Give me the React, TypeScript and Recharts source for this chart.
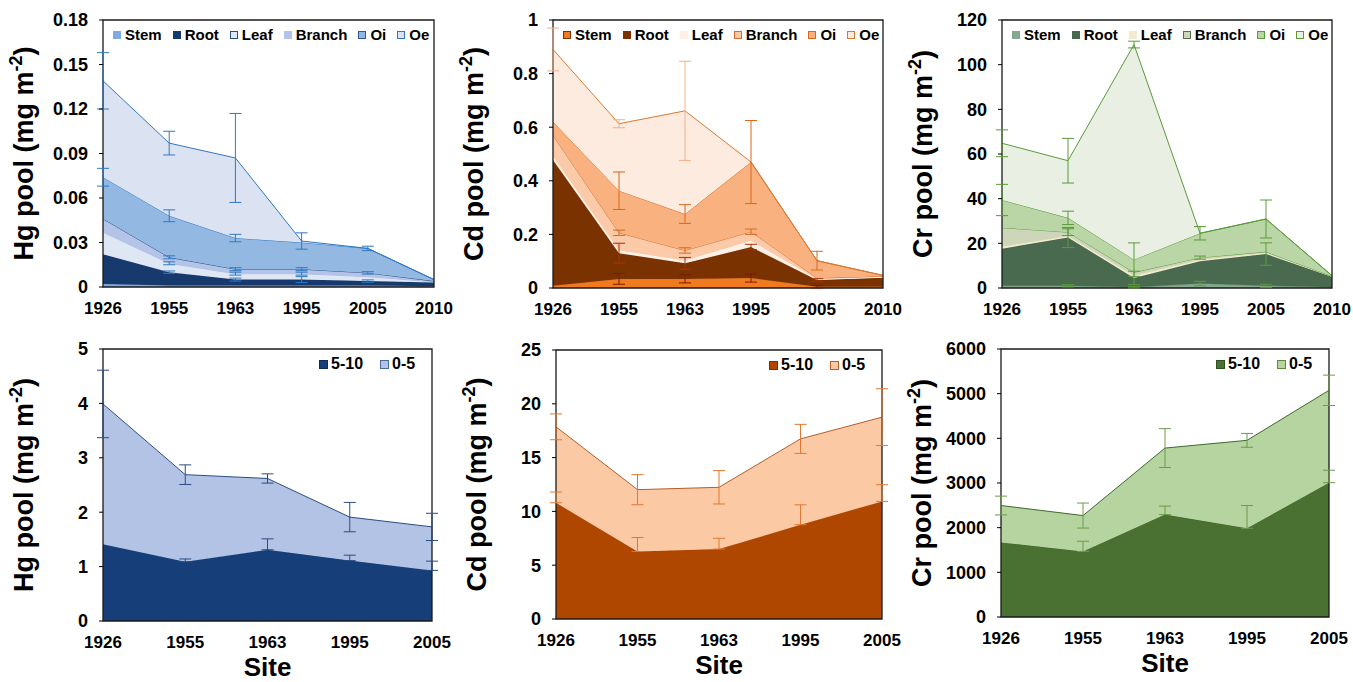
import {
  Area,
  ComposedChart,
  ErrorBar,
  Label,
  Legend,
  Line,
  ReferenceArea,
  XAxis,
  YAxis,
} from 'recharts';

const FONT = '"Liberation Sans", Arial, Helvetica, sans-serif';

const litterSites = ['1926', '1955', '1963', '1995', '2005', '2010'];
const soilSites = ['1926', '1955', '1963', '1995', '2005'];

// vegetation + litter pools, stacked Stem -> Oe (mg m-2)
const hgStem = [0.002, 0.001, 0.001, 0.001, 0.001, 0.0005];
const hgRoot = [0.02, 0.009, 0.004, 0.004, 0.003, 0.0025];
const hgLeaf = [0.015, 0.006, 0.004, 0.004, 0.003, 0.0005];
const hgBranch = [0.009, 0.004, 0.003, 0.003, 0.0025, 0.0005];
const hgOi = [0.028, 0.028, 0.021, 0.018, 0.0165, 0.001];
const hgOe = [0.065, 0.049, 0.054, 0.001, 0, 0];
const hgRootSd = [null, 0.0008, 0.001, 0.002, 0.0008, null];
const hgLeafSd = [null, 0.001, 0.001, 0.001, null, null];
const hgBranchSd = [null, 0.001, 0.001, 0.001, 0.0008, null];
const hgOiSd = [0.006, 0.004, 0.0025, null, 0.0015, null];
const hgOeSd = [0.019, 0.008, 0.03, 0.0055, null, null];

const cdStem = [0.008, 0.034, 0.034, 0.037, 0.005, 0.005];
const cdRoot = [0.47, 0.096, 0.058, 0.116, 0.025, 0.033];
const cdLeaf = [0.012, 0.01, 0.01, 0.022, 0.003, 0.003];
const cdBranch = [0.08, 0.066, 0.038, 0.035, 0.004, 0.003];
const cdOi = [0.05, 0.157, 0.136, 0.26, 0.065, 0.003];
const cdOe = [0.27, 0.25, 0.385, 0, 0, 0];
const cdStemSd = [null, 0.02, 0.015, 0.015, 0.005, null];
const cdRootSd = [null, 0.037, 0.022, 0.01, 0.005, null];
const cdBranchSd = [null, 0.01, 0.01, 0.01, null, null];
const cdOiSd = [null, 0.07, 0.035, 0.155, 0.035, null];
const cdOeSd = [0.08, 0.015, 0.185, null, null, null];

const crStem = [1, 1, 0.3, 2, 1, 0.3];
const crRoot = [16.6, 21.6, 4.2, 10, 14.2, 4.7];
const crLeaf = [0.9, 0.7, 1, 0.7, 0.6, 0.2];
const crBranch = [8.5, 1.7, 1.5, 0.9, 0.4, 0.1];
const crOi = [12.4, 6.4, 5.7, 10.9, 14.7, 0.2];
const crOe = [25.4, 25.6, 96.3, 0, 0, 0];
const crStemSd = [null, 0.5, 0.3, 1, 0.7, null];
const crRootSd = [null, 4.5, 3, null, 5, null];
const crBranchSd = [null, 1.5, null, 0.7, null, null];
const crOiSd = [7, 3, 7.5, 3, 8.5, null];
const crOeSd = [6, 10, 1.5, null, null, null];

// soil pools by depth (cm); deeper layer errors drawn upward only
const hgDeep = [1.41, 1.09, 1.31, 1.11, 0.93];
const hgTop = [2.58, 1.6, 1.31, 0.8, 0.8];
const hgDeepSd = [null, 0.05, 0.2, 0.1, 0.17];
const hgTopSd = [0.62, 0.18, 0.085, 0.27, 0.25];

const cdDeep = [10.8, 6.27, 6.5, 8.76, 10.93];
const cdTop = [7.06, 5.75, 5.74, 7.98, 7.83];
const cdDeepSd = [1.0, 1.3, 1.0, 1.85, 1.55];
const cdTopSd = [1.2, 1.4, 1.55, 1.35, 2.64];

const crDeep = [1669, 1466, 2293, 1985, 3008];
const crTop = [827, 805, 1489, 1970, 2067];
const crDeepSd = [null, 230, 190, 510, 278];
const crTopSd = [210, 280, 435, 155, 340];

const none = [null, null, null, null, null, null];

const hgTicks = [0, 0.03, 0.06, 0.09, 0.12, 0.15, 0.18];
const cdTicks = [0, 0.2, 0.4, 0.6, 0.8, 1];
const crTicks = [0, 20, 40, 60, 80, 100, 120];
const hgSoilTicks = [0, 1, 2, 3, 4, 5];
const cdSoilTicks = [0, 5, 10, 15, 20, 25];
const crSoilTicks = [0, 1000, 2000, 3000, 4000, 5000, 6000];

type Series = {
  key: string;
  label: string;
  values: number[];
  sd: (number | null)[];
  fill: string;
  stroke: string;
  err: string;
  box?: string;
  plusOnly?: boolean;
};

const hgLitter: Series[] = [
  { key: 'stem', label: 'Stem', values: hgStem, sd: none, fill: '#80aae2', stroke: '#80aae2', err: '#2f78c4' },
  { key: 'root', label: 'Root', values: hgRoot, sd: hgRootSd, fill: '#163a6e', stroke: '#163a6e', err: '#2f78c4' },
  { key: 'leaf', label: 'Leaf', values: hgLeaf, sd: hgLeafSd, fill: '#dfe6f4', stroke: '#a9bbdc', err: '#2f78c4', box: '#2a4b82' },
  { key: 'branch', label: 'Branch', values: hgBranch, sd: hgBranchSd, fill: '#b4c3e8', stroke: '#2a4b82', err: '#2f78c4' },
  { key: 'oi', label: 'Oi', values: hgOi, sd: hgOiSd, fill: '#93b8e2', stroke: '#2f78c4', err: '#2f78c4', box: '#2a5a9c' },
  { key: 'oe', label: 'Oe', values: hgOe, sd: hgOeSd, fill: '#dbe3f3', stroke: '#2f78c4', err: '#2f78c4', box: '#2f78c4' },
];

const cdLitter: Series[] = [
  { key: 'stem', label: 'Stem', values: cdStem, sd: cdStemSd, fill: '#f07a20', stroke: '#e87020', err: '#7a1a00', box: '#7a3300' },
  { key: 'root', label: 'Root', values: cdRoot, sd: cdRootSd, fill: '#7a3300', stroke: '#7a3300', err: '#a8300c' },
  { key: 'leaf', label: 'Leaf', values: cdLeaf, sd: none, fill: '#fff0e6', stroke: '#ffffff', err: '#d8691c' },
  { key: 'branch', label: 'Branch', values: cdBranch, sd: cdBranchSd, fill: '#fbcaa8', stroke: '#d8702c', err: '#d8691c', box: '#d8702c' },
  { key: 'oi', label: 'Oi', values: cdOi, sd: cdOiSd, fill: '#f9b27f', stroke: '#d06a24', err: '#d8691c', box: '#d06a24' },
  { key: 'oe', label: 'Oe', values: cdOe, sd: cdOeSd, fill: '#fdebdf', stroke: '#d8782e', err: '#f4b084', box: '#d8782e' },
];

const crLitter: Series[] = [
  { key: 'stem', label: 'Stem', values: crStem, sd: crStemSd, fill: '#86a88f', stroke: '#6f9a7a', err: '#5a9a3a' },
  { key: 'root', label: 'Root', values: crRoot, sd: crRootSd, fill: '#4a6a4f', stroke: '#3f6344', err: '#5a9a3a' },
  { key: 'leaf', label: 'Leaf', values: crLeaf, sd: none, fill: '#f3ebd0', stroke: '#efe4c4', err: '#5a9a3a' },
  { key: 'branch', label: 'Branch', values: crBranch, sd: crBranchSd, fill: '#cdd6b8', stroke: '#5a9a3a', err: '#5a9a3a', box: '#55704a' },
  { key: 'oi', label: 'Oi', values: crOi, sd: crOiSd, fill: '#bad6a6', stroke: '#5a9a3a', err: '#5a9a3a', box: '#5a9a3a' },
  { key: 'oe', label: 'Oe', values: crOe, sd: crOeSd, fill: '#e9f0e3', stroke: '#5a9a3a', err: '#5a9a3a', box: '#5a9a3a' },
];

const hgSoil: Series[] = [
  { key: 'deep', label: '5-10', values: hgDeep, sd: hgDeepSd, fill: '#163f7a', stroke: '#163f7a', err: '#2b4c80', box: '#0e2a55', plusOnly: true },
  { key: 'top', label: '0-5', values: hgTop, sd: hgTopSd, fill: '#b3c3e6', stroke: '#2b4c80', err: '#2b4c80', box: '#4d6aa0' },
];
const cdSoil: Series[] = [
  { key: 'deep', label: '5-10', values: cdDeep, sd: cdDeepSd, fill: '#b04700', stroke: '#b04700', err: '#e0782f', box: '#7a3000', plusOnly: true },
  { key: 'top', label: '0-5', values: cdTop, sd: cdTopSd, fill: '#fcc9a5', stroke: '#b85c28', err: '#e0782f', box: '#c06020' },
];
const crSoil: Series[] = [
  { key: 'deep', label: '5-10', values: crDeep, sd: crDeepSd, fill: '#4a7131', stroke: '#3e6a2a', err: '#6c9a4c', box: '#2f5020', plusOnly: true },
  { key: 'top', label: '0-5', values: crTop, sd: crTopSd, fill: '#b5d4a0', stroke: '#3e6a2a', err: '#6c9a4c', box: '#5a8a3a' },
];

function buildRows(sites: string[], series: Series[]) {
  return sites.map((site, i) => {
    const row: Record<string, any> = { site };
    let sum = 0;
    series.forEach((s) => {
      const sd = s.sd[i];
      sum += s.values[i];
      row[s.key] = s.values[i];
      row[`${s.key}Top`] = sum;
      row[`${s.key}Sd`] = sd == null ? null : s.plusOnly ? [0, sd] : sd;
    });
    return row;
  });
}

const ML = 103;
const MT = 20;
const MR = 25;
const MB = 62;
const Y_W = 60;
const X_H = 30;

function YTitle({ viewBox, metal }: any) {
  const cx = viewBox.x + viewBox.width - 70;
  const cy = viewBox.y + viewBox.height / 2;
  return (
    <text
      x={cx}
      y={cy}
      transform={`rotate(-90 ${cx} ${cy})`}
      textAnchor="middle"
      fontFamily={FONT}
      fontWeight={700}
      fontSize={27}
      fill="#000"
    >
      {metal} pool (mg m<tspan dy={-11} fontSize={18}>-2</tspan>
      <tspan dy={11}>)</tspan>
    </text>
  );
}

function SiteTitle({ viewBox }: any) {
  return (
    <text
      x={viewBox.x + viewBox.width / 2}
      y={viewBox.y + 55}
      textAnchor="middle"
      fontFamily={FONT}
      fontWeight={700}
      fontSize={26}
      fill="#000"
    >
      Site
    </text>
  );
}

function LegendBox({ series, size, font, gap, pad }: { series: Series[]; size: number; font: number; gap: number; pad: number }) {
  return (
    <div
      style={{
        display: 'flex',
        alignItems: 'center',
        fontFamily: FONT,
        fontWeight: 700,
        fontSize: font,
        lineHeight: '18px',
        color: '#000',
        whiteSpace: 'nowrap',
      }}
    >
      {series.map((s, i) => (
        <span key={s.key} style={{ display: 'flex', alignItems: 'center', marginRight: i < series.length - 1 ? gap : 0 }}>
          <span
            style={{
              display: 'inline-block',
              width: size,
              height: size,
              background: s.fill,
              border: s.box ? `1px solid ${s.box}` : 'none',
              boxSizing: 'border-box',
              marginRight: pad,
            }}
          />
          {s.label}
        </span>
      ))}
    </div>
  );
}

type PanelProps = {
  x: number;
  y: number;
  w: number;
  h: number;
  sites: string[];
  series: Series[];
  ticks: number[];
  metal: string;
  soil?: boolean;
};

function Panel({ x, y, w, h, sites, series, ticks, metal, soil }: PanelProps) {
  const rows = buildRows(sites, series);
  const max = ticks[ticks.length - 1];
  const legendLeft = soil ? ML + w - 113 : ML + 10;
  const tickStyle = { fill: '#000', fontSize: 17, fontWeight: 700, fontFamily: FONT };

  return (
    <div style={{ position: 'absolute', left: x - ML, top: y - MT }}>
      <ComposedChart
        width={w + ML + MR}
        height={h + MT + MB}
        data={rows}
        margin={{ top: MT, right: MR, bottom: MB - X_H, left: ML - Y_W }}
      >
        <XAxis
          dataKey="site"
          scale="point"
          interval={0}
          height={X_H}
          axisLine={false}
          tickLine={false}
          tickSize={6}
          tickMargin={9}
          tick={tickStyle}
        >
          {soil ? <Label content={(props: any) => <SiteTitle {...props} />} /> : null}
        </XAxis>
        <YAxis
          width={Y_W}
          domain={[0, max]}
          ticks={ticks}
          allowDataOverflow
          interval={0}
          axisLine={false}
          tickLine={{ stroke: '#000' }}
          tickSize={4}
          tickMargin={11}
          tick={{ ...tickStyle, fontSize: 18 }}
        >
          <Label content={(props: any) => <YTitle {...props} metal={metal} />} />
        </YAxis>
        {series.map((s) => (
          <Area
            key={s.key}
            dataKey={s.key}
            stackId="pool"
            type="linear"
            fill={s.fill}
            fillOpacity={1}
            stroke={s.stroke}
            strokeWidth={1}
            legendType="none"
            isAnimationActive={false}
          />
        ))}
        {series.map((s) => (
          <Line
            key={`${s.key}-err`}
            dataKey={`${s.key}Top`}
            stroke="none"
            dot={false}
            activeDot={false}
            legendType="none"
            isAnimationActive={false}
          >
            <ErrorBar dataKey={`${s.key}Sd`} direction="y" width={6} stroke={s.err} strokeWidth={1} />
          </Line>
        ))}
        <ReferenceArea
          x1={sites[0]}
          x2={sites[sites.length - 1]}
          y1={0}
          y2={max}
          fill="none"
          stroke="#1a1a1a"
          strokeWidth={1.3}
          ifOverflow="visible"
        />
        <Legend
          verticalAlign="middle"
          align="center"
          wrapperStyle={{ top: MT + 6, left: legendLeft, width: 'auto' }}
          content={() =>
            soil ? (
              <LegendBox series={series} size={9} font={16} gap={17} pad={3} />
            ) : (
              <LegendBox series={series} size={8} font={15} gap={11} pad={4} />
            )
          }
        />
      </ComposedChart>
    </div>
  );
}

export default function App() {
  return (
    <div
      style={{
        position: 'fixed',
        left: 0,
        top: 0,
        width: 1353,
        height: 682,
        background: '#fff',
        overflow: 'hidden',
      }}
    >
      <Panel x={103} y={20} w={331} h={267} sites={litterSites} series={hgLitter} ticks={hgTicks} metal="Hg" />
      <Panel x={553} y={20} w={330} h={268} sites={litterSites} series={cdLitter} ticks={cdTicks} metal="Cd" />
      <Panel x={1002} y={20} w={330} h={268} sites={litterSites} series={crLitter} ticks={crTicks} metal="Cr" />
      <Panel x={103} y={349} w={329} h={272} sites={soilSites} series={hgSoil} ticks={hgSoilTicks} metal="Hg" soil />
      <Panel x={556} y={350} w={326} h={269} sites={soilSites} series={cdSoil} ticks={cdSoilTicks} metal="Cd" soil />
      <Panel x={1001} y={349} w={328} h={268} sites={soilSites} series={crSoil} ticks={crSoilTicks} metal="Cr" soil />
    </div>
  );
}
